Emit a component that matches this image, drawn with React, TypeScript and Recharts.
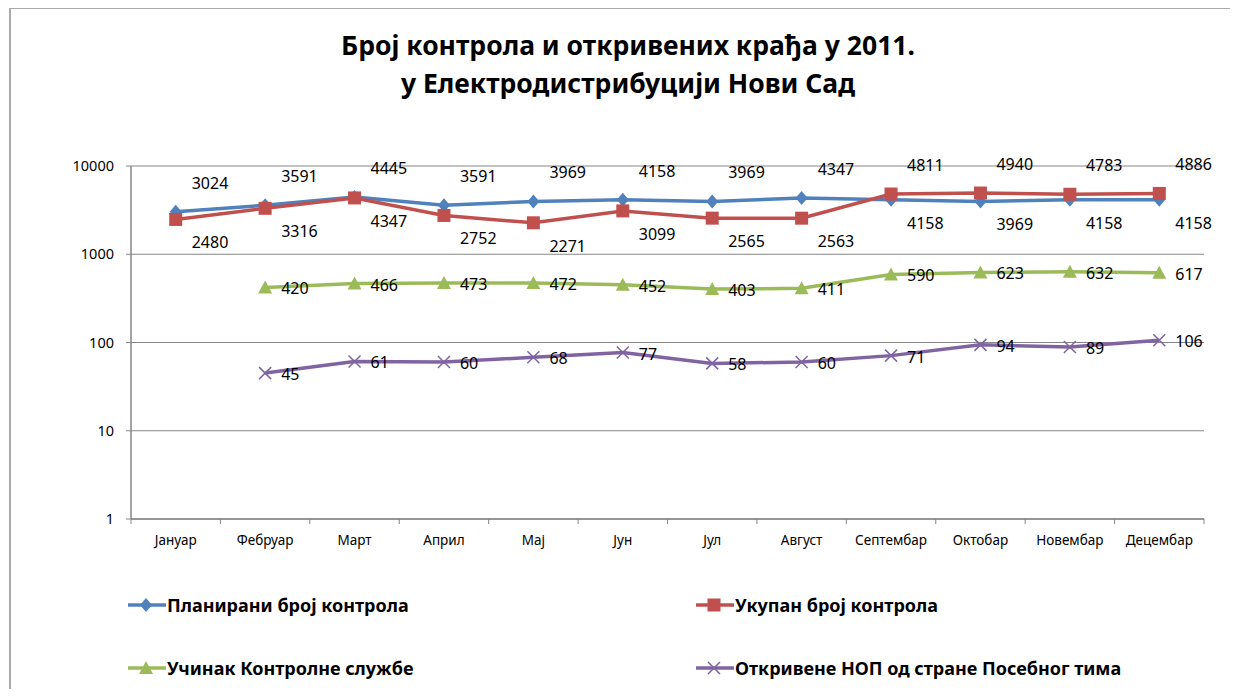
import React from 'react';
import { LineChart, Line, XAxis, YAxis, CartesianGrid, LabelList } from 'recharts';

const months = ['Јануар', 'Фебруар', 'Март', 'Април', 'Мај', 'Јун', 'Јул', 'Август', 'Септембар', 'Октобар', 'Новембар', 'Децембар'];
const planned = [3024, 3591, 4445, 3591, 3969, 4158, 3969, 4347, 4158, 3969, 4158, 4158];
const total = [2480, 3316, 4347, 2752, 2271, 3099, 2565, 2563, 4811, 4940, 4783, 4886];
const performance = [null, 420, 466, 473, 472, 452, 403, 411, 590, 623, 632, 617];
const detected = [null, 45, 61, 60, 68, 77, 58, 60, 71, 94, 89, 106];
const yTicks = [1, 10, 100, 1000, 10000];

const titleLines = ['Број контрола и откривених крађа у 2011.', 'у Електродистрибуцији Нови Сад'];
const names = {
  planned: 'Планирани број контрола',
  total: 'Укупан број контрола',
  performance: 'Учинак Контролне службе',
  detected: 'Откривене НОП од стране Посебног тима',
};

const data = months.map((m, i) => ({
  month: m,
  planned: planned[i],
  total: total[i],
  performance: performance[i],
  detected: detected[i],
}));

const BLUE = '#4F81BD';
const RED = '#C0504D';
const GREEN = '#9BBB59';
const PURPLE = '#8064A2';
const GRID = '#868686';
const FONT = '"Noto Sans", "DejaVu Sans", sans-serif';

const W = 1222;
const H = 681;
const M = { top: 158, right: 26, left: 0, bottom: 140 };
const YW = 123;
const PLOT_W = W - M.right - M.left - YW;
const BAND = PLOT_W / months.length;

type MP = { cx?: number; cy?: number; fill: string };
const Diamond = ({ cx, cy, fill }: MP) =>
  cx == null || cy == null ? <g /> : <path d={`M${cx},${cy - 7}L${cx + 6},${cy}L${cx},${cy + 7}L${cx - 6},${cy}Z`} fill={fill} />;
const Square = ({ cx, cy, fill }: MP) =>
  cx == null || cy == null ? <g /> : <rect x={cx - 6.5} y={cy - 6.5} width={13} height={13} fill={fill} />;
const Triangle = ({ cx, cy, fill }: MP) =>
  cx == null || cy == null ? <g /> : <path d={`M${cx},${cy - 7}L${cx + 7},${cy + 6}L${cx - 7},${cy + 6}Z`} fill={fill} />;
const Cross = ({ cx, cy, fill }: MP) =>
  cx == null || cy == null ? <g /> : (
    <path d={`M${cx - 6},${cy - 6}L${cx + 6},${cy + 6}M${cx - 6},${cy + 6}L${cx + 6},${cy - 6}`} stroke={fill} strokeWidth={1.5} fill="none" />
  );

const dotFn = (Comp: any, fill: string) => (p: any) => <Comp key={`d-${p.index}`} cx={p.cx} cy={p.cy} fill={fill} />;

const labelFn = (mode: 'vs' | 'right', mine?: (number | null)[], other?: (number | null)[]) => (p: any) => {
  const x = p.x ?? p.viewBox?.x;
  const y = p.y ?? p.viewBox?.y;
  const v = p.value;
  if (x == null || y == null || v == null) return <g key={`l-${p.index}`} />;
  let dy = 1;
  if (mode === 'vs' && mine && other) {
    const a = mine[p.index] as number;
    const b = other[p.index] as number;
    dy = a >= b ? -29 : 23;
  }
  return (
    <text key={`l-${p.index}`} x={x + 16} y={y + dy} dominantBaseline="central" textAnchor="start" fontSize={16} fontFamily={FONT} fill="#000">
      {v}
    </text>
  );
};

const XTick = (p: any) => {
  const { x, y, payload, index } = p;
  const last = index === months.length - 1;
  return (
    <g>
      <line x1={x - BAND / 2} y1={y} x2={x - BAND / 2} y2={y + 5} stroke={GRID} />
      {last && <line x1={x + BAND / 2} y1={y} x2={x + BAND / 2} y2={y + 5} stroke={GRID} />}
      <text x={x} y={y + 21} textAnchor="middle" dominantBaseline="central" fontSize={13.5} fontFamily={FONT} fill="#000">
        {payload.value}
      </text>
    </g>
  );
};

const LegendIcon = ({ color, Marker }: { color: string; Marker: any }) => (
  <svg width={38} height={16} style={{ display: 'block' }}>
    <line x1={0} y1={8} x2={38} y2={8} stroke={color} strokeWidth={3.5} />
    <Marker cx={18} cy={8} fill={color} />
  </svg>
);

const legendItems = [
  { key: 'planned', color: BLUE, Marker: Diamond, left: 120, top: 597 },
  { key: 'total', color: RED, Marker: Square, left: 688, top: 597 },
  { key: 'performance', color: GREEN, Marker: Triangle, left: 120, top: 660 },
  { key: 'detected', color: PURPLE, Marker: Cross, left: 688, top: 660 },
];

export default function App() {
  return (
    <div style={{ position: 'relative', width: W, height: H, fontFamily: FONT }}>
      <div style={{ position: 'absolute', left: 1, top: -1, width: W, height: H + 10, borderLeft: '2px solid #ababab', borderTop: '2px solid #ababab' }} />
      <div style={{ position: 'absolute', left: 0, top: 18, width: 1240, textAlign: 'center', fontWeight: 700, fontSize: 26.5, lineHeight: '38px', color: '#000' }}>
        {titleLines.map((t) => (
          <div key={t}>{t}</div>
        ))}
      </div>
      <div style={{ position: 'absolute', left: 0, top: 0 }}>
        <LineChart width={W} height={H} data={data} margin={M}>
          <CartesianGrid vertical={false} stroke={GRID} strokeWidth={1} />
          <XAxis dataKey="month" scale="band" axisLine={{ stroke: GRID, strokeWidth: 1.5 }} tickLine={false} tickSize={0} tickMargin={0} tick={<XTick />} interval={0} />
          <YAxis
            scale="log"
            domain={[1, 10000]}
            ticks={yTicks}
            allowDataOverflow
            width={YW}
            axisLine={{ stroke: GRID, strokeWidth: 1.5 }}
            tickLine={{ stroke: GRID }}
            tickSize={5}
            tickMargin={12}
            tick={{ fontSize: 14.5, fontFamily: FONT, fill: '#000' }}
            interval={0}
          />
          <Line dataKey="planned" stroke={BLUE} strokeWidth={3.5} dot={dotFn(Diamond, BLUE)} isAnimationActive={false}>
            <LabelList dataKey="planned" content={labelFn('vs', planned, total)} />
          </Line>
          <Line dataKey="total" stroke={RED} strokeWidth={3.5} dot={dotFn(Square, RED)} isAnimationActive={false}>
            <LabelList dataKey="total" content={labelFn('vs', total, planned)} />
          </Line>
          <Line dataKey="performance" stroke={GREEN} strokeWidth={3.5} dot={dotFn(Triangle, GREEN)} isAnimationActive={false}>
            <LabelList dataKey="performance" content={labelFn('right')} />
          </Line>
          <Line dataKey="detected" stroke={PURPLE} strokeWidth={3.5} dot={dotFn(Cross, PURPLE)} isAnimationActive={false}>
            <LabelList dataKey="detected" content={labelFn('right')} />
          </Line>
        </LineChart>
      </div>
      {legendItems.map((it) => (
        <div key={it.key} style={{ position: 'absolute', left: it.left, top: it.top - 12, height: 24, display: 'flex', alignItems: 'center', gap: 1 }}>
          <LegendIcon color={it.color} Marker={it.Marker} />
          <span style={{ fontWeight: 700, fontSize: 18, color: '#000', whiteSpace: 'nowrap' }}>{(names as any)[it.key]}</span>
        </div>
      ))}
    </div>
  );
}
